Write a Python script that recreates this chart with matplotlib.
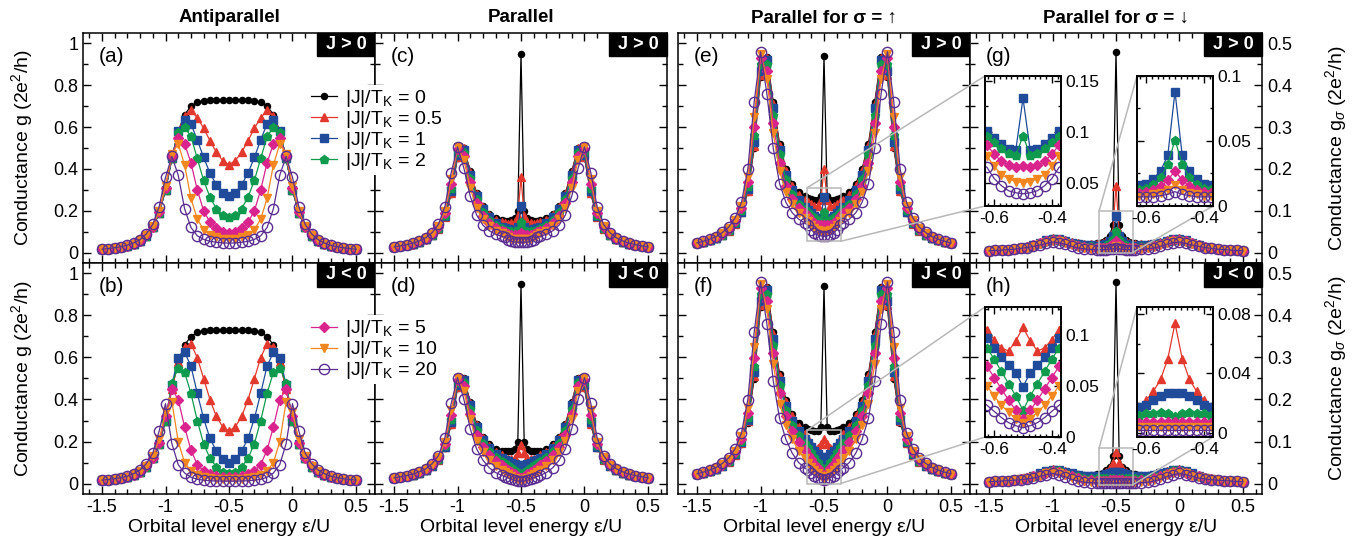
import matplotlib.pyplot as plt
import numpy as np
from matplotlib.patches import Rectangle, ConnectionPatch
from matplotlib.ticker import MultipleLocator, FuncFormatter

plt.rcParams['font.family'] = ['Liberation Sans', 'DejaVu Sans']
plt.rcParams['mathtext.fontset'] = 'custom'
plt.rcParams['mathtext.rm'] = 'Liberation Sans'
plt.rcParams['mathtext.it'] = 'Liberation Sans:italic'
plt.rcParams['mathtext.bf'] = 'Liberation Sans:bold'

# |J|/T_K values of the seven curves
JK = ['0', '0.5', '1', '2', '5', '10', '20']

# all curves are symmetric about eps/U = -1/2, so only the left half is stored
# antiparallel grid
XA = [-1.5, -1.45, -1.4, -1.35, -1.3, -1.25, -1.2, -1.15, -1.1, -1.05, -1.0,
      -0.95, -0.9, -0.85, -0.8, -0.75, -0.7, -0.65, -0.6, -0.55, -0.5]
# parallel grid (denser around the middle)
XP = [-1.5, -1.45, -1.4, -1.35, -1.3, -1.25, -1.2, -1.15, -1.1, -1.05, -1.0,
      -0.95, -0.9, -0.85, -0.8, -0.75, -0.7, -0.65, -0.625, -0.6, -0.575,
      -0.55, -0.525, -0.5]

# antiparallel, J > 0  (black, red, blue, green, magenta, orange, purple)
AP_POS = [
    [0.015, 0.018, 0.021, 0.026, 0.032, 0.042, 0.056, 0.08, 0.12, 0.19, 0.30, 0.45, 0.58, 0.66, 0.70, 0.72, 0.725, 0.73, 0.73, 0.73, 0.73],
    [0.015, 0.018, 0.021, 0.026, 0.032, 0.042, 0.056, 0.08, 0.12, 0.19, 0.30, 0.45, 0.58, 0.655, 0.68, 0.645, 0.595, 0.535, 0.48, 0.44, 0.42],
    [0.015, 0.018, 0.021, 0.026, 0.032, 0.042, 0.056, 0.08, 0.12, 0.19, 0.30, 0.45, 0.58, 0.635, 0.615, 0.54, 0.455, 0.38, 0.325, 0.285, 0.27],
    [0.015, 0.018, 0.021, 0.026, 0.032, 0.042, 0.056, 0.08, 0.12, 0.19, 0.30, 0.45, 0.575, 0.60, 0.555, 0.45, 0.345, 0.265, 0.21, 0.18, 0.17],
    [0.015, 0.018, 0.021, 0.026, 0.032, 0.042, 0.057, 0.082, 0.123, 0.195, 0.31, 0.46, 0.55, 0.52, 0.43, 0.30, 0.20, 0.145, 0.115, 0.10, 0.095],
    [0.015, 0.018, 0.022, 0.027, 0.033, 0.043, 0.058, 0.085, 0.127, 0.20, 0.32, 0.47, 0.52, 0.42, 0.26, 0.16, 0.11, 0.085, 0.072, 0.067, 0.065],
    [0.016, 0.019, 0.023, 0.028, 0.035, 0.046, 0.062, 0.09, 0.135, 0.22, 0.36, 0.46, 0.37, 0.21, 0.12, 0.08, 0.063, 0.054, 0.049, 0.046, 0.045],
]

# antiparallel, J < 0
AP_NEG = [
    [0.015, 0.018, 0.021, 0.026, 0.032, 0.042, 0.056, 0.08, 0.12, 0.19, 0.30, 0.45, 0.58, 0.66, 0.70, 0.72, 0.725, 0.73, 0.73, 0.73, 0.73],
    [0.015, 0.018, 0.021, 0.026, 0.032, 0.042, 0.056, 0.08, 0.12, 0.19, 0.30, 0.45, 0.58, 0.65, 0.665, 0.60, 0.50, 0.40, 0.32, 0.27, 0.25],
    [0.015, 0.018, 0.021, 0.026, 0.032, 0.042, 0.056, 0.08, 0.12, 0.19, 0.30, 0.47, 0.60, 0.625, 0.56, 0.43, 0.31, 0.215, 0.155, 0.115, 0.10],
    [0.015, 0.018, 0.021, 0.026, 0.032, 0.042, 0.056, 0.08, 0.12, 0.19, 0.30, 0.48, 0.55, 0.53, 0.43, 0.30, 0.19, 0.12, 0.08, 0.057, 0.05],
    [0.015, 0.018, 0.021, 0.026, 0.032, 0.042, 0.057, 0.082, 0.123, 0.195, 0.32, 0.45, 0.40, 0.27, 0.16, 0.09, 0.06, 0.045, 0.037, 0.033, 0.03],
    [0.015, 0.018, 0.022, 0.027, 0.033, 0.043, 0.058, 0.085, 0.13, 0.21, 0.34, 0.39, 0.20, 0.10, 0.06, 0.04, 0.03, 0.025, 0.022, 0.02, 0.02],
    [0.016, 0.019, 0.023, 0.028, 0.035, 0.047, 0.065, 0.095, 0.145, 0.25, 0.38, 0.19, 0.09, 0.05, 0.03, 0.02, 0.016, 0.013, 0.012, 0.011, 0.011],
]

# parallel, spin up, J > 0
UP_POS = [
    [0.022, 0.025, 0.029, 0.034, 0.041, 0.052, 0.068, 0.095, 0.145, 0.25, 0.42, 0.468, 0.36, 0.26, 0.2, 0.165, 0.145, 0.135, 0.13, 0.127, 0.125, 0.125, 0.135, 0.47],
    [0.022, 0.025, 0.029, 0.034, 0.041, 0.052, 0.068, 0.096, 0.148, 0.255, 0.425, 0.465, 0.355, 0.255, 0.195, 0.16, 0.138, 0.125, 0.12, 0.115, 0.112, 0.112, 0.125, 0.2],
    [0.022, 0.025, 0.029, 0.034, 0.042, 0.053, 0.07, 0.098, 0.152, 0.265, 0.435, 0.46, 0.345, 0.245, 0.185, 0.15, 0.125, 0.108, 0.101, 0.094, 0.088, 0.083, 0.082, 0.133],
    [0.022, 0.025, 0.029, 0.035, 0.043, 0.054, 0.072, 0.101, 0.158, 0.28, 0.45, 0.452, 0.33, 0.235, 0.175, 0.14, 0.117, 0.104, 0.096, 0.09, 0.084, 0.079, 0.077, 0.096],
    [0.022, 0.026, 0.03, 0.036, 0.044, 0.056, 0.075, 0.106, 0.168, 0.3, 0.465, 0.435, 0.31, 0.215, 0.16, 0.128, 0.106, 0.094, 0.087, 0.078, 0.071, 0.067, 0.065, 0.066],
    [0.023, 0.026, 0.031, 0.037, 0.046, 0.058, 0.078, 0.112, 0.18, 0.325, 0.475, 0.415, 0.285, 0.195, 0.145, 0.115, 0.095, 0.083, 0.076, 0.066, 0.058, 0.054, 0.051, 0.05],
    [0.023, 0.027, 0.032, 0.038, 0.048, 0.061, 0.083, 0.12, 0.2, 0.36, 0.48, 0.38, 0.25, 0.165, 0.12, 0.095, 0.08, 0.07, 0.065, 0.054, 0.047, 0.042, 0.04, 0.039],
]

# parallel, spin up, J < 0
UP_NEG = [
    [0.022, 0.025, 0.029, 0.034, 0.041, 0.052, 0.068, 0.095, 0.145, 0.25, 0.42, 0.468, 0.36, 0.26, 0.2, 0.165, 0.145, 0.135, 0.13, 0.127, 0.125, 0.125, 0.135, 0.47],
    [0.022, 0.025, 0.029, 0.034, 0.041, 0.052, 0.068, 0.096, 0.148, 0.255, 0.425, 0.465, 0.355, 0.255, 0.195, 0.16, 0.135, 0.118, 0.105, 0.095, 0.087, 0.084, 0.094, 0.107],
    [0.022, 0.025, 0.029, 0.034, 0.042, 0.053, 0.07, 0.098, 0.152, 0.265, 0.435, 0.46, 0.345, 0.245, 0.185, 0.15, 0.125, 0.106, 0.097, 0.087, 0.078, 0.07, 0.063, 0.049],
    [0.022, 0.025, 0.029, 0.035, 0.043, 0.054, 0.072, 0.101, 0.158, 0.28, 0.45, 0.452, 0.33, 0.235, 0.175, 0.14, 0.115, 0.096, 0.087, 0.076, 0.064, 0.052, 0.04, 0.026],
    [0.022, 0.026, 0.03, 0.036, 0.044, 0.056, 0.075, 0.106, 0.168, 0.3, 0.465, 0.435, 0.31, 0.215, 0.16, 0.125, 0.098, 0.079, 0.069, 0.058, 0.047, 0.036, 0.026, 0.018],
    [0.023, 0.026, 0.031, 0.037, 0.046, 0.058, 0.078, 0.112, 0.18, 0.325, 0.475, 0.415, 0.285, 0.19, 0.14, 0.105, 0.078, 0.06, 0.05, 0.04, 0.031, 0.024, 0.018, 0.014],
    [0.023, 0.027, 0.032, 0.038, 0.048, 0.061, 0.083, 0.12, 0.2, 0.36, 0.48, 0.38, 0.245, 0.155, 0.105, 0.072, 0.05, 0.037, 0.031, 0.025, 0.019, 0.014, 0.011, 0.009],
]

# parallel, spin down, J > 0
DN_POS = [
    [0.004, 0.005, 0.006, 0.007, 0.009, 0.011, 0.014, 0.018, 0.024, 0.03, 0.034, 0.033, 0.029, 0.025, 0.022, 0.021, 0.021, 0.022, 0.023, 0.026, 0.031, 0.04, 0.065, 0.48],
    [0.004, 0.005, 0.006, 0.007, 0.009, 0.011, 0.014, 0.018, 0.024, 0.03, 0.034, 0.033, 0.029, 0.025, 0.022, 0.02, 0.02, 0.02, 0.021, 0.023, 0.027, 0.034, 0.05, 0.16],
    [0.004, 0.005, 0.006, 0.007, 0.009, 0.011, 0.014, 0.018, 0.024, 0.029, 0.033, 0.032, 0.028, 0.024, 0.021, 0.019, 0.018, 0.0165, 0.016, 0.017, 0.021, 0.027, 0.039, 0.088],
    [0.004, 0.005, 0.006, 0.007, 0.009, 0.011, 0.014, 0.018, 0.023, 0.028, 0.032, 0.031, 0.027, 0.022, 0.019, 0.016, 0.015, 0.014, 0.013, 0.014, 0.017, 0.022, 0.032, 0.051],
    [0.004, 0.005, 0.006, 0.007, 0.009, 0.011, 0.013, 0.017, 0.022, 0.027, 0.03, 0.029, 0.025, 0.02, 0.016, 0.013, 0.012, 0.011, 0.01, 0.011, 0.012, 0.015, 0.02, 0.027],
    [0.004, 0.005, 0.006, 0.007, 0.008, 0.01, 0.012, 0.016, 0.02, 0.025, 0.028, 0.027, 0.023, 0.018, 0.014, 0.011, 0.009, 0.0085, 0.008, 0.008, 0.009, 0.01, 0.012, 0.016],
    [0.004, 0.005, 0.006, 0.007, 0.008, 0.01, 0.012, 0.015, 0.018, 0.022, 0.025, 0.024, 0.02, 0.015, 0.011, 0.009, 0.0075, 0.007, 0.007, 0.007, 0.007, 0.008, 0.009, 0.011],
]

# parallel, spin down, J < 0
DN_NEG = [
    [0.004, 0.005, 0.006, 0.007, 0.009, 0.011, 0.014, 0.018, 0.024, 0.03, 0.034, 0.033, 0.029, 0.025, 0.022, 0.021, 0.021, 0.022, 0.023, 0.026, 0.031, 0.04, 0.065, 0.48],
    [0.004, 0.005, 0.006, 0.007, 0.009, 0.011, 0.014, 0.018, 0.024, 0.03, 0.034, 0.033, 0.029, 0.025, 0.021, 0.018, 0.016, 0.016, 0.017, 0.022, 0.028, 0.036, 0.05, 0.074],
    [0.004, 0.005, 0.006, 0.007, 0.009, 0.011, 0.014, 0.018, 0.024, 0.029, 0.033, 0.032, 0.028, 0.024, 0.02, 0.018, 0.017, 0.017, 0.017, 0.019, 0.022, 0.025, 0.027, 0.027],
    [0.004, 0.005, 0.006, 0.007, 0.009, 0.011, 0.014, 0.018, 0.023, 0.028, 0.032, 0.031, 0.026, 0.021, 0.017, 0.014, 0.013, 0.012, 0.012, 0.013, 0.0135, 0.014, 0.0135, 0.011],
    [0.004, 0.005, 0.006, 0.007, 0.009, 0.011, 0.013, 0.017, 0.021, 0.026, 0.03, 0.028, 0.023, 0.017, 0.012, 0.009, 0.0075, 0.007, 0.0065, 0.007, 0.007, 0.0072, 0.0073, 0.0073],
    [0.004, 0.005, 0.006, 0.007, 0.008, 0.01, 0.012, 0.015, 0.019, 0.024, 0.027, 0.025, 0.02, 0.014, 0.009, 0.006, 0.0045, 0.004, 0.004, 0.004, 0.004, 0.004, 0.004, 0.004],
    [0.004, 0.005, 0.006, 0.007, 0.008, 0.009, 0.011, 0.013, 0.017, 0.021, 0.024, 0.021, 0.016, 0.01, 0.006, 0.003, 0.002, 0.0015, 0.0015, 0.0015, 0.0015, 0.0015, 0.0015, 0.0015],
]

STYLES = [
    dict(color='#000000', marker='o', ms=4.4),
    dict(color='#e2382d', marker='^', ms=6),
    dict(color='#1f4b9a', marker='s', ms=5.2),
    dict(color='#0f9a4e', marker='p', ms=6.4),
    dict(color='#d9238d', marker='D', ms=4.6),
    dict(color='#f4861f', marker='v', ms=6),
    dict(color='#5a2d90', marker='o', ms=7.4, mfc='none', mew=1.0),
]

W, H = 1358, 556
COLS = [(83, 375), (375, 667), (678, 970), (970, 1262)]
ROWS = [(33, 263), (263, 494)]
GREY = '#b8b8b8'


def mirror(xh, yh):
    xh = np.asarray(xh, float)
    yh = np.asarray(yh, float)
    x = np.concatenate([xh, -1.0 - xh[-2::-1]])
    y = np.concatenate([yh, yh[-2::-1]])
    return x, y


def rect(x0, y0, x1, y1):
    return [x0 / W, 1 - y1 / H, (x1 - x0) / W, (y1 - y0) / H]


def num(v, pos=None):
    s = f'{v:g}'
    return '0' if s == '-0' else s


def draw_curves(ax, xh, series, which=range(7)):
    lines = []
    for i in which:
        x, y = mirror(xh, series[i])
        st = dict(STYLES[i])
        st.setdefault('mfc', st['color'])
        ln, = ax.plot(x, y, lw=0.9, mec=st['color'], label=r'|J|/T$_\mathrm{K}$ = ' + JK[i], **st)
        lines.append(ln)
    return lines


def set_ticks(ax, xmaj, xmin, ymaj, ymin, size=13, major=6, minor=3.5):
    ax.xaxis.set_major_locator(MultipleLocator(xmaj))
    ax.xaxis.set_minor_locator(MultipleLocator(xmin))
    ax.yaxis.set_major_locator(MultipleLocator(ymaj))
    ax.yaxis.set_minor_locator(MultipleLocator(ymin))
    ax.xaxis.set_major_formatter(FuncFormatter(num))
    ax.yaxis.set_major_formatter(FuncFormatter(num))
    ax.tick_params(which='both', direction='in', top=True, right=True, width=1, labelsize=size)
    ax.tick_params(which='major', length=major)
    ax.tick_params(which='minor', length=minor)
    for sp in ax.spines.values():
        sp.set_linewidth(1.1)


fig = plt.figure(figsize=(W / 100, H / 100), dpi=100)

panels = [
    [('(a)', AP_POS, XA, 1), ('(c)', None, XP, 1), ('(e)', UP_POS, XP, 0.5), ('(g)', DN_POS, XP, 0.5)],
    [('(b)', AP_NEG, XA, 1), ('(d)', None, XP, 1), ('(f)', UP_NEG, XP, 0.5), ('(h)', DN_NEG, XP, 0.5)],
]
pair = [(UP_POS, DN_POS), (UP_NEG, DN_NEG)]

axs = [[None] * 4 for _ in range(2)]
handles = []
for r, (y0, y1) in enumerate(ROWS):
    for c, (x0, x1) in enumerate(COLS):
        tag, data, xh, scale = panels[r][c]
        ax = fig.add_axes(rect(x0, y0, x1, y1))
        axs[r][c] = ax
        if data is None:
            # total parallel conductance is the sum of both spin channels
            up, dn = pair[r]
            data = [list(np.add(u, d)) for u, d in zip(up, dn)]
        lines = draw_curves(ax, xh, data)
        if c == 1:
            handles.append(lines)
        ax.set_xlim(-1.65, 0.65)
        ax.set_ylim(-0.05 * scale, 1.05 * scale)
        set_ticks(ax, 0.5, 0.1, 0.2 * scale, 0.1 * scale)
        ax.tick_params(labelleft=(c == 0), labelright=(c == 3), labelbottom=(r == 1))
        if r == 1:
            ax.set_xlabel('Orbital level energy ε/U', fontsize=14, labelpad=2)
        ax.text(0.055, 0.94, tag, transform=ax.transAxes, fontsize=15, va='top', ha='left')
        ax.add_patch(Rectangle((0.803, 0.898), 0.197, 0.102, transform=ax.transAxes,
                               color='black', zorder=6, clip_on=False))
        ax.text(0.9015, 0.949, 'J > 0' if r == 0 else 'J < 0', transform=ax.transAxes,
                color='white', fontweight='bold', fontsize=13, ha='center', va='center', zorder=7)

# legends split over the two "Parallel" panels
for r, idx in enumerate([range(0, 4), range(4, 7)]):
    hs = [handles[r][i] for i in idx]
    leg = axs[r][1].legend(hs, [h.get_label() for h in hs], loc='upper left',
                           bbox_to_anchor=(-0.229, 0.773), fontsize=14, frameon=True,
                           framealpha=1, handlelength=1.35, handletextpad=0.4,
                           labelspacing=0.0, borderpad=0.15, borderaxespad=0)
    leg.get_frame().set_linewidth(0)
    leg.get_frame().set_facecolor('white')
    leg.set_zorder(10)

# column titles and axis labels
titles = ['Antiparallel', 'Parallel', 'Parallel for σ = ↑', 'Parallel for σ = ↓']
for (x0, x1), t in zip(COLS, titles):
    fig.text((x0 + x1) / 2 / W, 1 - 18 / H, t, fontsize=13.5, fontweight='bold', ha='center', va='center')
for y0, y1 in ROWS:
    yc = 1 - (y0 + y1) / 2 / H
    fig.text(22 / W, yc, 'Conductance g (2e$^2$/h)', rotation=90, fontsize=14, ha='center', va='center')
    fig.text(1336 / W, yc, r'Conductance g$_\sigma$ (2e$^2$/h)', rotation=90, fontsize=14,
             ha='center', va='center')

# zoomed views of the middle region
INSETS = [
    # (source row, source col, inset pixel box, ylim, y ticks, series, inset corners for box top-left / bottom-right)
    (0, 2, (985, 76, 1061, 206), (0.027, 0.155), (0.05, 0.025), range(2, 7), ((0, 1), (0, 0))),
    (0, 3, (1137, 76, 1213, 206), (0.0, 0.1), (0.05, 0.025), range(2, 7), ((0, 1), (1, 0))),
    (1, 2, (985, 307, 1061, 437), (0.0, 0.127), (0.05, 0.025), range(1, 7), ((0, 1), (0, 0))),
    (1, 3, (1137, 307, 1213, 437), (-0.003, 0.085), (0.04, 0.02), range(1, 7), ((0, 1), (1, 0))),
]
IX = (-0.632, -0.368)
for r, c, box, ylim, (ymaj, ymin), which, corners in INSETS:
    src = axs[r][c]
    data = panels[r][c][1]
    ins = fig.add_axes(rect(*box))
    ins.set_zorder(20)
    draw_curves(ins, XP, data, which)
    ins.set_xlim(*IX)
    ins.set_ylim(*ylim)
    set_ticks(ins, 0.2, 0.02, ymaj, ymin, size=12.5, major=5, minor=2.5)
    ins.tick_params(labelleft=False, labelright=True, labelbottom=True)
    for sp in ins.spines.values():
        sp.set_linewidth(1.4)
    src.add_patch(Rectangle((IX[0], ylim[0]), IX[1] - IX[0], ylim[1] - ylim[0],
                            fill=False, ec=GREY, lw=1.1, zorder=8))
    for (sx, sy), ic in zip([(IX[0], ylim[1]), (IX[1], ylim[0])], corners):
        con = ConnectionPatch(xyA=(sx, sy), coordsA=src.transData, xyB=ic,
                              coordsB=ins.transAxes, color=GREY, lw=1.1)
        con.set_zorder(15)
        fig.add_artist(con)

fig.savefig('out.png', dpi=100)
